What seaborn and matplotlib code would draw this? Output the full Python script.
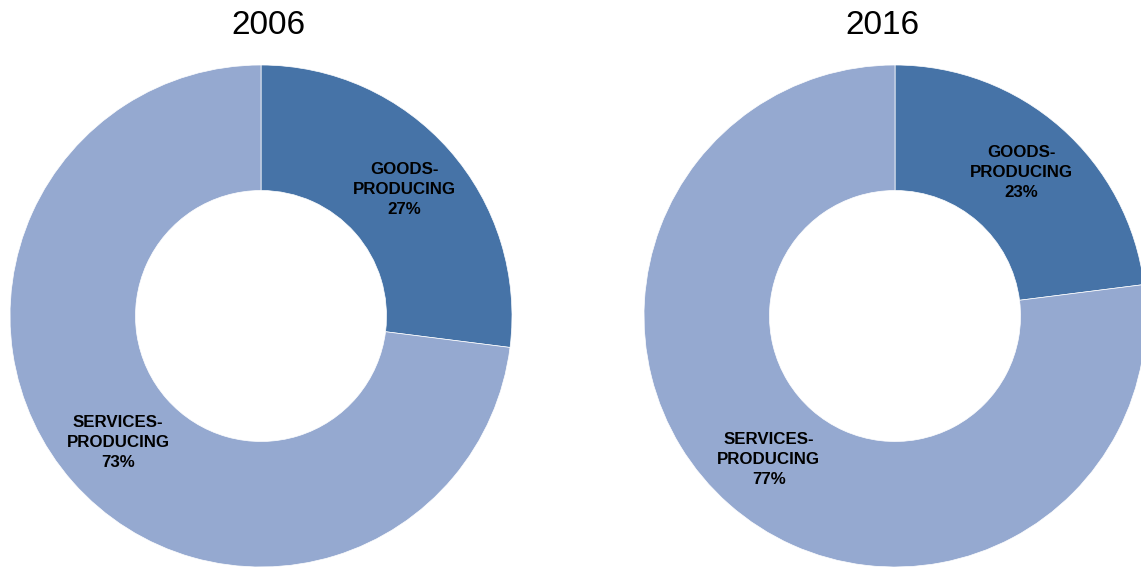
"""
Goods- vs services-producing employment share, 2006 and 2016 (donut charts)
"""
import matplotlib
matplotlib.use("Agg")
import matplotlib.pyplot as plt
import seaborn as sns

years = ["2006", "2016"]
sectors = ["GOODS-\nPRODUCING", "SERVICES-\nPRODUCING"]
shares_2006 = [27, 73]
shares_2016 = [23, 77]
colors = ["#4673A7", "#95A9D0"]

sns.set_theme(style="white")
plt.rcParams["font.family"] = ["Liberation Sans", "DejaVu Sans"]

W, H = 1141, 567
fig = plt.figure(figsize=(W / 100, H / 100), dpi=100)

R = 251  # outer radius, px
centers = [(261, 316), (895, 316)]
title_x = [268, 882]

for year, shares, (cx, cy), tx in zip(years, [shares_2006, shares_2016], centers, title_x):
    ax = fig.add_axes([(cx - R) / W, (H - cy - R) / H, 2 * R / W, 2 * R / H])
    labels = iter(sectors)

    def fmt(pct, labels=labels):
        return f"{next(labels)}\n{pct:.0f}%"

    wedges, texts, autotexts = ax.pie(
        shares, colors=colors, startangle=90, counterclock=False,
        radius=1.0, autopct=fmt, pctdistance=0.76,
        wedgeprops=dict(width=0.5, edgecolor="white", linewidth=0.5),
        textprops=dict(fontsize=12.2, fontweight="bold", color="black"),
    )
    for t in autotexts:
        t.set_linespacing(1.42)
    ax.set_xlim(-1, 1)
    ax.set_ylim(-1, 1)
    ax.set_aspect("equal")
    ax.axis("off")
    fig.text(tx / W, 1 - 26 / H, year, ha="center", va="center",
             fontsize=24, color="black")

plt.savefig("out.png", dpi=100)
